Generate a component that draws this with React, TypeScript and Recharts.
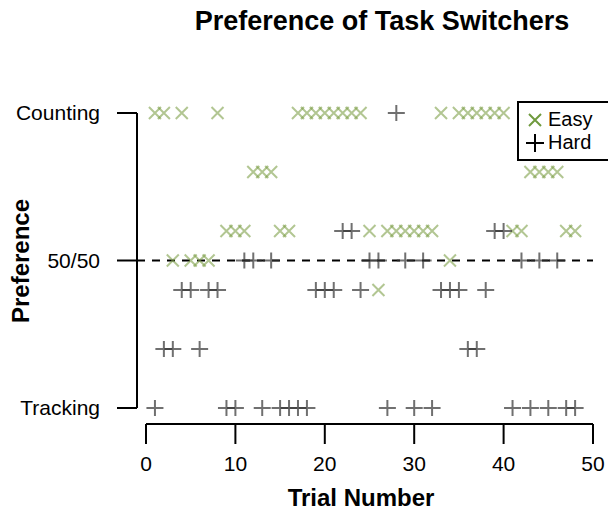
import { ScatterChart, Scatter, XAxis, YAxis, ReferenceLine, Legend } from "recharts";

// trial numbers and preference scores (0 = Tracking, 0.5 = 50/50, 1 = Counting)
const trials = [
  1, 2, 3, 4, 5, 6, 7, 8, 9, 10, 11, 12, 13, 14, 15, 16, 17, 18, 19, 20, 21, 22, 23, 24,
  25, 26, 27, 28, 29, 30, 31, 32, 33, 34, 35, 36, 37, 38, 39, 40, 41, 42, 43, 44, 45, 46, 47, 48,
];
const easyPref = [
  1, 1, 0.5, 1, 0.5, 0.5, 0.5, 1, 0.6, 0.6, 0.6, 0.8, 0.8, 0.8, 0.6, 0.6, 1, 1, 1, 1, 1, 1, 1, 1,
  0.6, 0.4, 0.6, 0.6, 0.6, 0.6, 0.6, 0.6, 1, 0.5, 1, 1, 1, 1, 1, 1, 0.6, 0.6, 0.8, 0.8, 0.8, 0.8, 0.6, 0.6,
];
const hardPref = [
  0, 0.2, 0.2, 0.4, 0.4, 0.2, 0.4, 0.4, 0, 0, 0.5, 0.5, 0, 0.5, 0, 0, 0, 0, 0.4, 0.4, 0.4, 0.6, 0.6, 0.4,
  0.5, 0.5, 0, 1, 0.5, 0, 0.5, 0, 0.4, 0.4, 0.4, 0.2, 0.2, 0.4, 0.6, 0.6, 0, 0.5, 0, 0.5, 0, 0.5, 0, 0,
];
const xTicks = [0, 10, 20, 30, 40, 50];
const prefTicks = [0, 0.5, 1];
const prefLabels: Record<number, string> = { 0: "Tracking", 0.5: "50/50", 1: "Counting" };

const easyData = trials.map((t, i) => ({ trial: t, pref: easyPref[i] }));
const hardData = trials.map((t, i) => ({ trial: t, pref: hardPref[i] }));

const FONT = "'Liberation Sans', Arial, Helvetica, sans-serif";
const EASY_COLOR = "#7fa04a";
const HARD_COLOR = "#333333";

// R-style detached axes: gap between plot edge and data range
const PLOT_LEFT = 137;
const PLOT_RIGHT = 593;
const PLOT_TOP = 113;
const PLOT_BOTTOM = 424;
const X_PAD = 9;
const Y_PAD = 16;
const xPerPx = 50 / (PLOT_RIGHT - PLOT_LEFT - X_PAD);
const yPerPx = 1 / (PLOT_BOTTOM - PLOT_TOP - Y_PAD);
const axisX = -X_PAD * xPerPx;
const axisY = -Y_PAD * yPerPx;

const EasyMark = (props: any) => {
  const { cx, cy } = props;
  const s = 6;
  return (
    <path
      d={`M${cx - s},${cy - s}L${cx + s},${cy + s}M${cx - s},${cy + s}L${cx + s},${cy - s}`}
      stroke={EASY_COLOR}
      strokeOpacity={0.6}
      strokeWidth={2}
      fill="none"
    />
  );
};

const HardMark = (props: any) => {
  const { cx, cy } = props;
  return (
    <path
      d={`M${cx - 8.5},${cy}L${cx + 8.5},${cy}M${cx},${cy - 8}L${cx},${cy + 8}`}
      stroke={HARD_COLOR}
      strokeOpacity={0.7}
      strokeWidth={2}
      fill="none"
    />
  );
};

const LegendBox = () => (
  <div
    style={{
      border: "2px solid #000",
      width: 85,
      height: 51,
      fontFamily: FONT,
      fontSize: 20,
      lineHeight: "23px",
      padding: "5px 0 0 6px",
      boxSizing: "content-box",
      background: "#fff",
    }}
  >
    <div style={{ display: "flex", alignItems: "center" }}>
      <svg width={20} height={20}>
        <path d="M4,4L16,16M4,16L16,4" stroke="#6f9a3e" strokeWidth={2} />
      </svg>
      <span style={{ marginLeft: 3 }}>Easy</span>
    </div>
    <div style={{ display: "flex", alignItems: "center" }}>
      <svg width={20} height={20}>
        <path d="M1,10L19,10M10,1L10,19" stroke="#000" strokeWidth={2} />
      </svg>
      <span style={{ marginLeft: 3 }}>Hard</span>
    </div>
  </div>
);

export default function App() {
  return (
    <div style={{ position: "fixed", left: 0, top: 0, width: 608, height: 513, background: "#fff" }}>
      <div
        style={{
          position: "absolute",
          left: 182,
          width: 400,
          top: 6,
          textAlign: "center",
          fontFamily: FONT,
          fontWeight: "bold",
          fontSize: 27,
        }}
      >
        Preference of Task Switchers
      </div>
      <ScatterChart
        width={608}
        height={513}
        margin={{ top: PLOT_TOP, right: 608 - PLOT_RIGHT, bottom: 0, left: 0 }}
        style={{ fontFamily: FONT }}
      >
        <XAxis
          type="number"
          dataKey="trial"
          domain={[0, 50]}
          ticks={xTicks}
          padding={{ left: X_PAD, right: 0 }}
          height={513 - PLOT_BOTTOM}
          axisLine={false}
          tickSize={20}
          tickMargin={12}
          tickLine={{ stroke: "#000", strokeWidth: 2 }}
          tick={{ fill: "#000", fontSize: 21 }}
          label={{
            content: (p: any) => (
              <text
                x={p.viewBox.x + p.viewBox.width / 2 - 4}
                y={506}
                textAnchor="middle"
                fontWeight="bold"
                fontSize={24}
                fill="#000"
              >
                Trial Number
              </text>
            ),
          }}
        />
        <YAxis
          type="number"
          dataKey="pref"
          domain={[0, 1]}
          ticks={prefTicks}
          padding={{ top: 0, bottom: Y_PAD }}
          width={PLOT_LEFT}
          axisLine={false}
          tickSize={20}
          tickMargin={17}
          tickLine={{ stroke: "#000", strokeWidth: 2 }}
          tick={{ fill: "#000", fontSize: 21 }}
          tickFormatter={(v: number) => prefLabels[v] ?? ""}
          label={{
            content: () => (
              <text
                x={29}
                y={261}
                transform="rotate(-90, 29, 261)"
                textAnchor="middle"
                fontWeight="bold"
                fontSize={24}
                fill="#000"
              >
                Preference
              </text>
            ),
          }}
        />
        <ReferenceLine
          segment={[
            { x: 0, y: axisY },
            { x: 50, y: axisY },
          ]}
          ifOverflow="visible"
          stroke="#000"
          strokeWidth={2}
        />
        <ReferenceLine
          segment={[
            { x: axisX, y: 0 },
            { x: axisX, y: 1 },
          ]}
          ifOverflow="visible"
          stroke="#000"
          strokeWidth={2}
        />
        <ReferenceLine y={0.5} stroke="#000" strokeWidth={2} strokeDasharray="8 7" />
        <Scatter name="Easy" data={easyData} shape={EasyMark} isAnimationActive={false} />
        <Scatter name="Hard" data={hardData} shape={HardMark} isAnimationActive={false} />
        <Legend
          layout="vertical"
          align="center"
          verticalAlign="middle"
          content={() => <LegendBox />}
          wrapperStyle={{ left: 517, top: 101, width: "auto", height: "auto" }}
        />
      </ScatterChart>
    </div>
  );
}
